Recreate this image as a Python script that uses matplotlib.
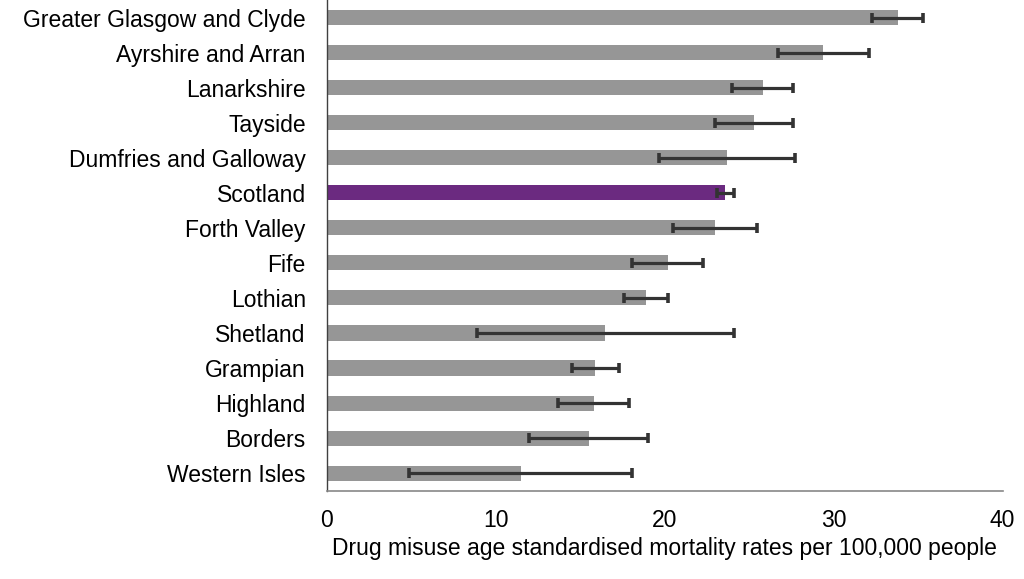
import matplotlib
matplotlib.use("Agg")
import matplotlib.pyplot as plt
import numpy as np

regions = ["Greater Glasgow and Clyde", "Ayrshire and Arran", "Lanarkshire", "Tayside",
           "Dumfries and Galloway", "Scotland", "Forth Valley", "Fife", "Lothian",
           "Shetland", "Grampian", "Highland", "Borders", "Western Isles"]
rates = [33.8, 29.4, 25.8, 25.3, 23.7, 23.6, 23.0, 20.2, 18.9, 16.5, 15.9, 15.8, 15.5, 11.5]
lower = [32.3, 26.7, 24.0, 23.0, 19.7, 23.1, 20.5, 18.1, 17.6, 8.9, 14.5, 13.7, 12.0, 4.9]
upper = [35.3, 32.1, 27.6, 27.6, 27.7, 24.1, 25.5, 22.3, 20.2, 24.1, 17.3, 17.9, 19.0, 18.1]
xticks = [0, 10, 20, 30, 40]
xlabel = "Drug misuse age standardised mortality rates per 100,000 people"

plt.rcParams['font.family'] = ['Liberation Sans', 'DejaVu Sans']

fig = plt.figure(figsize=(10.24, 5.79), dpi=100)
ax = fig.add_axes([326.6 / 1024, 1 - 490.7 / 579, (1002.5 - 326.6) / 1024, 490.7 / 579])

y = np.arange(len(regions))
colors = ["#6b2a80" if r == "Scotland" else "#969696" for r in regions]
ax.barh(y, rates, height=0.43, color=colors, zorder=2)
err = np.array([np.array(rates) - np.array(lower), np.array(upper) - np.array(rates)])
ax.errorbar(rates, y, xerr=err, fmt="none", ecolor="#333333", elinewidth=2.3,
            capsize=3.3, capthick=2.6, zorder=3)

ax.set_xlim(0, 40)
ax.set_ylim(13.5, -0.5)
ax.set_yticks(y)
ax.set_yticklabels(regions, fontsize=16.5)
ax.set_xticks(xticks)
ax.set_xticklabels([str(t) for t in xticks], fontsize=16.5)
ax.tick_params(axis="y", length=0, pad=15)
ax.tick_params(axis="x", length=0, pad=13)
ax.set_xlabel(xlabel, fontsize=16.5, labelpad=4)

for s in ["top", "right"]:
    ax.spines[s].set_visible(False)
ax.spines["left"].set_color("#404040")
ax.spines["left"].set_linewidth(1.0)
ax.spines["bottom"].set_color("#888888")
ax.spines["bottom"].set_linewidth(1.2)

fig.savefig("out.png", dpi=100)
